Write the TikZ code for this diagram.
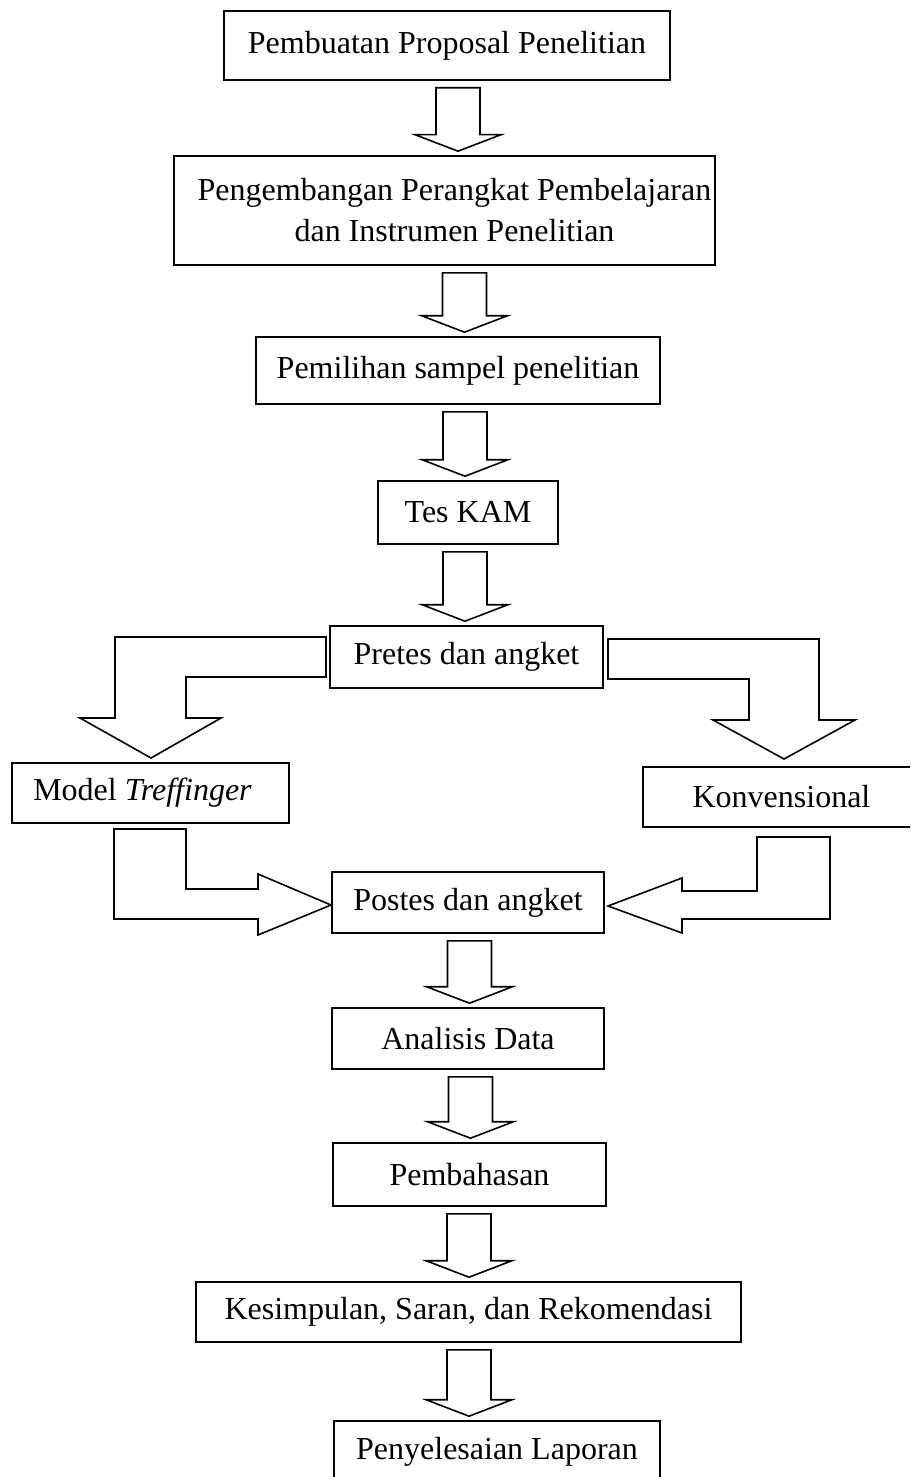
\documentclass[tikz,border=0pt]{standalone}
\usepackage{fontspec}
\setmainfont{Liberation Serif}
\usetikzlibrary{calc}
\tikzset{
  box/.style={draw, line width=0.8pt, inner sep=0pt, align=center,
    font=\fontsize{16}{20.5}\selectfont},
  blockarrow/.style={draw, line width=0.8pt, line join=miter},
}
\newcommand{\blockdown}[3]{%
  \coordinate (t) at (#3,0 |- #1.south);
  \coordinate (b) at (#3,0 |- #2.north);
  \draw[blockarrow] ([shift={(-22,7)}]t) -- ([shift={(22,7)}]t)
    -- ([shift={(22,-20.5)}]b) -- ([shift={(43,-20.5)}]b)
    -- ([shift={(0,-4)}]b) -- ([shift={(-43,-20.5)}]b)
    -- ([shift={(-22,-20.5)}]b) -- cycle;
}
\begin{document}
\begin{tikzpicture}[x=0.5pt,y=-0.5pt]
\useasboundingbox (0,0) rectangle (910,1477);
\clip (0,0) rectangle (910,1477);

\node[box, minimum width=223pt, minimum height=34.5pt] (b1) at (447,45.5) {Pembuatan Proposal Penelitian};
\node[box, minimum width=270.5pt, minimum height=54.5pt] (b2) at (444.5,210.5) {\hspace*{10pt}Pengembangan Perangkat Pembelajaran\\\hspace*{10pt}dan Instrumen Penelitian};
\node[box, minimum width=202pt, minimum height=33.5pt] (b3) at (458,370.5) {Pemilihan sampel penelitian};
\node[box, minimum width=90pt, minimum height=31.5pt] (b4) at (468,512.5) {Tes KAM};
\node[box, minimum width=136.5pt, minimum height=31pt] (b5) at (466.5,657) {Pretes dan angket};
\node[box, minimum width=138.5pt, minimum height=30pt] (b6) at (150.5,793) {Model \textit{Treffinger}\hspace*{8pt}};
\node[box, minimum width=138.5pt, minimum height=30pt] (b7) at (781.5,797) {Konvensional};
\node[box, minimum width=136pt, minimum height=30.5pt] (b8) at (468,902.5) {Postes dan angket};
\node[box, minimum width=136pt, minimum height=30.5pt] (b9) at (468,1038.5) {Analisis Data};
\node[box, minimum width=136.5pt, minimum height=31.5pt] (b10) at (469.5,1174.5) {Pembahasan};
\node[box, minimum width=272.5pt, minimum height=30pt] (b11) at (468.5,1312) {Kesimpulan, Saran, dan Rekomendasi};
\node[box, minimum width=163pt, minimum height=31pt] (b12) at (497,1452) {Penyelesaian Laporan};

\blockdown{b1}{b2}{458}
\blockdown{b2}{b3}{464.5}
\blockdown{b3}{b4}{465}
\blockdown{b4}{b5}{465}
\blockdown{b8}{b9}{469.5}
\blockdown{b9}{b10}{470.5}
\blockdown{b10}{b11}{469}
\blockdown{b11}{b12}{469}

% Pretes -> Model Treffinger
\draw[blockarrow] (326,637) -- (115,637) -- (115,718) -- (80,718) -- (151,758)
  -- (221,718) -- (186,718) -- (186,677) -- (326,677) -- cycle;
% Pretes -> Konvensional
\draw[blockarrow] (608,639) -- (819,639) -- (819,720) -- (855,720) -- (784,759)
  -- (713,720) -- (749,720) -- (749,679) -- (608,679) -- cycle;
% Model Treffinger -> Postes
\draw[blockarrow] (114,829) -- (186,829) -- (186,889) -- (258,889) -- (258,874)
  -- (331,905) -- (258,935) -- (258,919) -- (114,919) -- cycle;
% Konvensional -> Postes
\draw[blockarrow] (830,837) -- (757,837) -- (757,891) -- (682,891) -- (682,878)
  -- (608,906) -- (682,933) -- (682,919) -- (830,919) -- cycle;
\end{tikzpicture}
\end{document}
